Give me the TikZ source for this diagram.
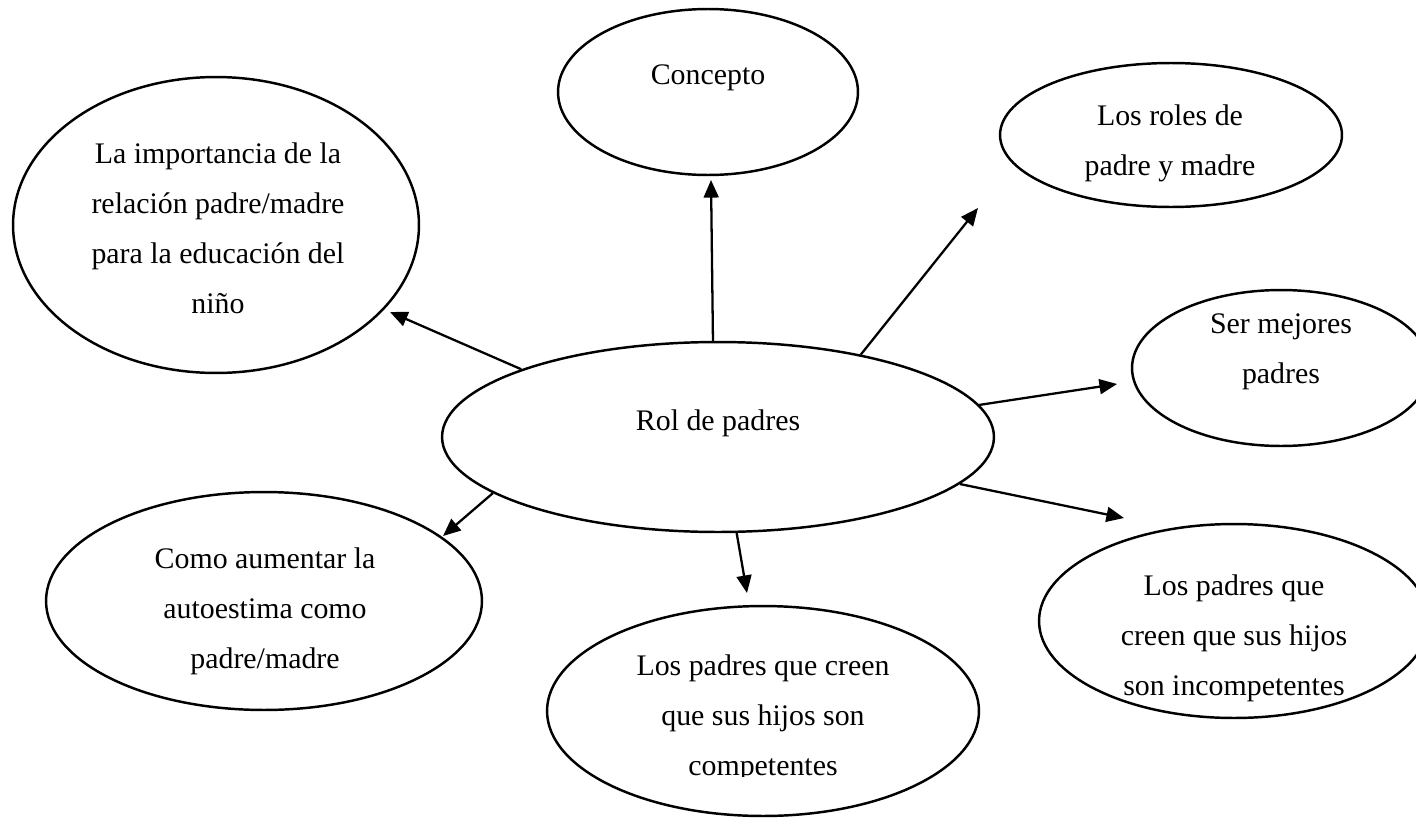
\documentclass[tikz,border=0pt]{standalone}
\usepackage{fontspec}
\setmainfont{Liberation Serif}
\usetikzlibrary{shapes.geometric,arrows.meta}
\begin{document}
\begin{tikzpicture}[x=0.02cm,y=-0.02cm]

    \tikzset{burbuja/.style={draw,shape=ellipse,line width=1.4pt,inner sep=0pt}}
    \tikzset{texto/.style={align=center,inner sep=0pt,font=\fontsize{17}{28.45}\selectfont}}
    \clip (0,0) rectangle (1416,818);

    % Elipses
    \node[burbuja,minimum width=11.04cm,minimum height=3.8cm] (rol) at (718,437) {};
    \node[burbuja,minimum width=6cm,minimum height=3.32cm] (concepto) at (708,92) {};
    \node[burbuja,minimum width=6.84cm,minimum height=2.88cm] (roles) at (1171,135) {};
    \node[burbuja,minimum width=8.12cm,minimum height=5.92cm] (importancia) at (216,225) {};
    \node[burbuja,minimum width=5.96cm,minimum height=3.12cm] (mejores) at (1281,368) {};
    \node[burbuja,minimum width=7.8cm,minimum height=3.88cm] (incompetentes) at (1234,621) {};
    \node[burbuja,minimum width=8.72cm,minimum height=4.36cm] (autoestima) at (264,601) {};
    \node[burbuja,minimum width=8.64cm,minimum height=4.2cm] (competentes) at (763,711) {};

    % Textos
    \node[texto] (t-rol) at (718,423) {Rol de padres};
    \node[texto] (t-concepto) at (708,78) {Concepto};
    \node[texto] (t-roles) at (1170,143) {Los roles de\\padre y madre};
    \node[texto] (t-importancia) at (218,228) {La importancia de la\\relación padre/madre\\para la educación del\\niño};
    \node[texto] (t-mejores) at (1281,352) {Ser mejores\\padres};
    \node[texto] (t-incompetentes) at (1234,638) {Los padres que\\creen que sus hijos\\son incompetentes};
    \node[texto] (t-autoestima) at (265,611) {Como aumentar la\\autoestima como\\padre/madre};
    \begin{scope}
        \clip (547,560) rectangle (979,776);
        \node[texto] (t-competentes) at (763,718) {Los padres que creen\\que sus hijos son\\competentes};
    \end{scope}

    % Puntas de flecha
    \coordinate (f-concepto) at (711,180);
    \coordinate (f-roles) at (978,208);
    \coordinate (f-importancia) at (390,312);
    \coordinate (f-autoestima) at (443,536);
    \coordinate (f-competentes) at (747,593);
    \coordinate (f-mejores) at (1117,384);
    \coordinate (f-incompetentes) at (1124,518);

    \begin{scope}[every path/.style={-{Triangle[length=10pt,width=8.5pt]},line width=1.3pt}]
        \draw (rol.93.7) -- (f-concepto);
        \draw (rol.30.7) -- (f-roles);
        \draw (rol.161) -- (f-importancia);
        \draw (rol.194.6) -- (f-autoestima);
        \draw (rol.281.5) -- (f-competentes);
        \draw (rol.7.4) -- (f-mejores);
        \draw (rol.349.6) -- (f-incompetentes);
    \end{scope}

\end{tikzpicture}
\end{document}
